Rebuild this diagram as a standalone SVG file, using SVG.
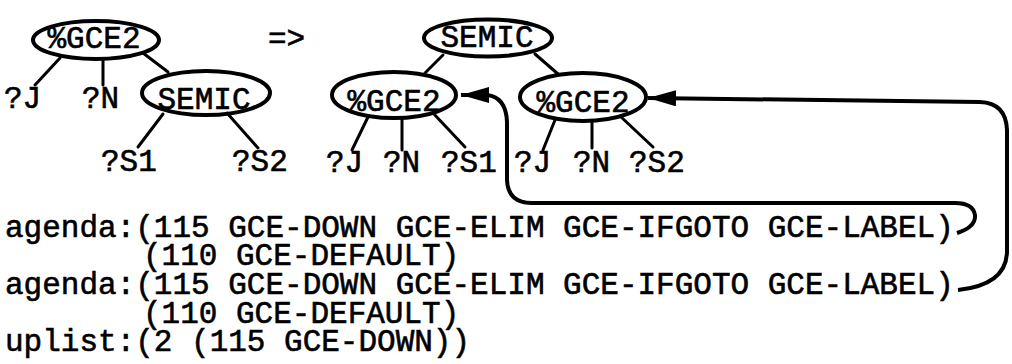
<svg xmlns="http://www.w3.org/2000/svg" width="1012" height="364" viewBox="0 0 1012 364">
<defs>
<style>
text{font-family:"Liberation Mono","Courier New",monospace;font-size:31px;fill:#000;stroke:#000;stroke-width:0.6}
.c{text-anchor:middle}
ellipse{fill:none;stroke:#000;stroke-width:4}
.e{stroke:#000;stroke-width:3;fill:none;stroke-linecap:round}
.a{stroke:#000;stroke-width:4;fill:none;stroke-linejoin:round}
</style>
<marker id="ah" markerUnits="userSpaceOnUse" markerWidth="30" markerHeight="18" refX="28" refY="8" orient="auto" viewBox="0 0 30 18">
<path d="M0,0 L28,8 L0,16 z" fill="#000"/>
</marker>
</defs>
<rect width="1012" height="364" fill="#fff"/>
<g id="connectors">
<line class="e" x1="60" y1="58" x2="35" y2="85"/>
<line class="e" x1="103" y1="60" x2="103" y2="85"/>
<line class="e" x1="143" y1="53" x2="168" y2="72"/>
<line class="e" x1="163" y1="114" x2="138" y2="147"/>
<line class="e" x1="227" y1="113" x2="258" y2="148"/>
<line class="e" x1="443" y1="55" x2="425" y2="73"/>
<line class="e" x1="535" y1="54" x2="558" y2="74"/>
<line class="e" x1="368" y1="117" x2="352" y2="150"/>
<line class="e" x1="402" y1="118" x2="402" y2="150"/>
<line class="e" x1="433" y1="113" x2="465" y2="147"/>
<line class="e" x1="555" y1="120" x2="543" y2="150"/>
<line class="e" x1="592" y1="121" x2="592" y2="148"/>
<line class="e" x1="620" y1="116" x2="653" y2="147"/>
<path class="a" marker-end="url(#ah)" d="M957 233 Q976 227 975 215 Q973 203 955 203 L532 203 Q508 203 507 180 L507 122 Q506 97 487 95 L461 95"/>
<path class="a" marker-end="url(#ah)" d="M958 290 Q1006 285 1007 252 L1007 130 Q1006 103 980 102 L648 98"/>
</g>
<g id="n-gce2-top"><ellipse cx="96" cy="40" rx="63" ry="19"/><text class="c" x="94" y="48">%GCE2</text></g>
<g id="n-semic-left"><ellipse cx="206" cy="93" rx="64" ry="22"/><text class="c" x="204" y="109">SEMIC</text></g>
<g id="n-leaf-j1"><text x="4" y="108">?J</text></g>
<g id="n-leaf-n1"><text x="82" y="108">?N</text></g>
<g id="n-leaf-s1a"><text x="101" y="171">?S1</text></g>
<g id="n-leaf-s2a"><text x="232" y="171">?S2</text></g>
<g id="arrow-sym"><text x="268" y="48">=&gt;</text></g>
<g id="n-semic-top"><ellipse cx="488" cy="38" rx="64" ry="18.5"/><text class="c" x="487" y="47">SEMIC</text></g>
<g id="n-gce2-left"><ellipse cx="394" cy="95" rx="62" ry="23"/><text class="c" x="394" y="111">%GCE2</text></g>
<g id="n-gce2-right"><ellipse cx="583" cy="97" rx="63" ry="24"/><text class="c" x="583" y="112">%GCE2</text></g>
<g id="n-leaf-j2"><text x="326" y="172">?J</text></g>
<g id="n-leaf-n2"><text x="383" y="172">?N</text></g>
<g id="n-leaf-s1b"><text x="441" y="172">?S1</text></g>
<g id="n-leaf-j3"><text x="514" y="172">?J</text></g>
<g id="n-leaf-n3"><text x="573" y="172">?N</text></g>
<g id="n-leaf-s2b"><text x="629" y="172">?S2</text></g>
<g id="listing">
<text x="5" y="236.5">agenda:(115 GCE-DOWN GCE-ELIM GCE-IFGOTO GCE-LABEL)</text>
<text x="143" y="265.2">(110 GCE-DEFAULT)</text>
<text x="5" y="294">agenda:(115 GCE-DOWN GCE-ELIM GCE-IFGOTO GCE-LABEL)</text>
<text x="143" y="322.6">(110 GCE-DEFAULT)</text>
<text x="5" y="351.3">uplist:(2 (115 GCE-DOWN))</text>
</g>
</svg>
